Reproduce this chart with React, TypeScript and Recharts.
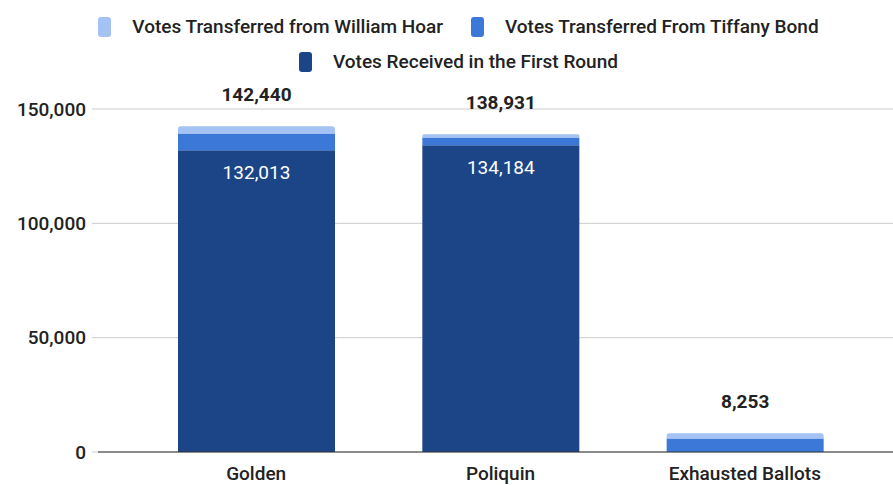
import { BarChart, Bar, XAxis, YAxis, CartesianGrid, LabelList } from 'recharts'

const categories = ['Golden', 'Poliquin', 'Exhausted Ballots']
const firstRound = [132013, 134184, 0]
const fromBond = [7300, 3400, 5850]
const fromHoar = [3127, 1347, 2403]
const totals = [142440, 138931, 8253]
const yTicks = [0, 50000, 100000, 150000]

const data = categories.map((name, i) => ({
  name,
  first: firstRound[i],
  bond: fromBond[i],
  hoar: fromHoar[i],
  total: totals[i],
}))

const FONT = 'Roboto, "Noto Sans", sans-serif'
const fmt = (v: number) => v.toLocaleString('en-US')

const legendRows = [
  [
    { label: 'Votes Transferred from William Hoar', color: '#a4c2f4' },
    { label: 'Votes Transferred From Tiffany Bond', color: '#3c78d8' },
  ],
  [{ label: 'Votes Received in the First Round', color: '#1c4587' }],
]

// legend drawn as plain html over the chart
const ChartLegend = () => (
  <div style={{ position: 'absolute', top: 9, left: 12, width: 893, fontFamily: FONT, fontSize: 19, fontWeight: 500, color: '#222' }}>
    {legendRows.map((row, r) => (
      <div key={r} style={{ display: 'flex', justifyContent: 'center', gap: 28, height: 35, alignItems: 'center' }}>
        {row.map((it) => (
          <div key={it.label} style={{ display: 'flex', alignItems: 'center' }}>
            <span style={{ width: 13, height: 20, borderRadius: 3, background: it.color, marginRight: 21, display: 'inline-block' }} />
            <span>{it.label}</span>
          </div>
        ))}
      </div>
    ))}
  </div>
)

export default function App() {
  return (
    <div style={{ position: 'absolute', left: 0, top: 0, width: 893, height: 485, background: '#fff', overflow: 'hidden' }}>
      <ChartLegend />
      <BarChart width={893} height={485} data={data} margin={{ top: 109, right: 0, bottom: 0, left: 8 }} barSize={157}>
        <CartesianGrid vertical={false} stroke="#cccccc" />
        <XAxis
          dataKey="name"
          height={33}
          padding={{ left: 36, right: 26 }}
          tickLine={false}
          axisLine={{ stroke: '#333333' }}
          tickMargin={9}
          tick={{ fill: '#222', fontSize: 19, fontWeight: 500, fontFamily: FONT }}
        />
        <YAxis
          width={90}
          domain={[0, 150000]}
          ticks={yTicks}
          tickFormatter={fmt}
          axisLine={false}
          tickLine={{ stroke: '#cccccc' }}
          tickSize={6}
          tickMargin={6}
          tick={{ fill: '#222', fontSize: 19, fontWeight: 500, fontFamily: FONT }}
        />
        <Bar dataKey="first" stackId="a" fill="#1c4587" isAnimationActive={false}>
          <LabelList
            dataKey="first"
            position="insideTop"
            offset={15}
            formatter={(v: any) => (v ? fmt(v) : '')}
            fill="#ffffff"
            style={{ fontSize: 19, fontFamily: FONT, fontWeight: 400 }}
          />
        </Bar>
        <Bar dataKey="bond" stackId="a" fill="#3c78d8" isAnimationActive={false} />
        <Bar dataKey="hoar" stackId="a" fill="#a4c2f4" radius={[3, 3, 0, 0]} isAnimationActive={false}>
          <LabelList
            dataKey="total"
            position="top"
            offset={25}
            formatter={(v: any) => fmt(v)}
            fill="#222"
            style={{ fontSize: 19, fontFamily: FONT, fontWeight: 700 }}
          />
        </Bar>
      </BarChart>
    </div>
  )
}
